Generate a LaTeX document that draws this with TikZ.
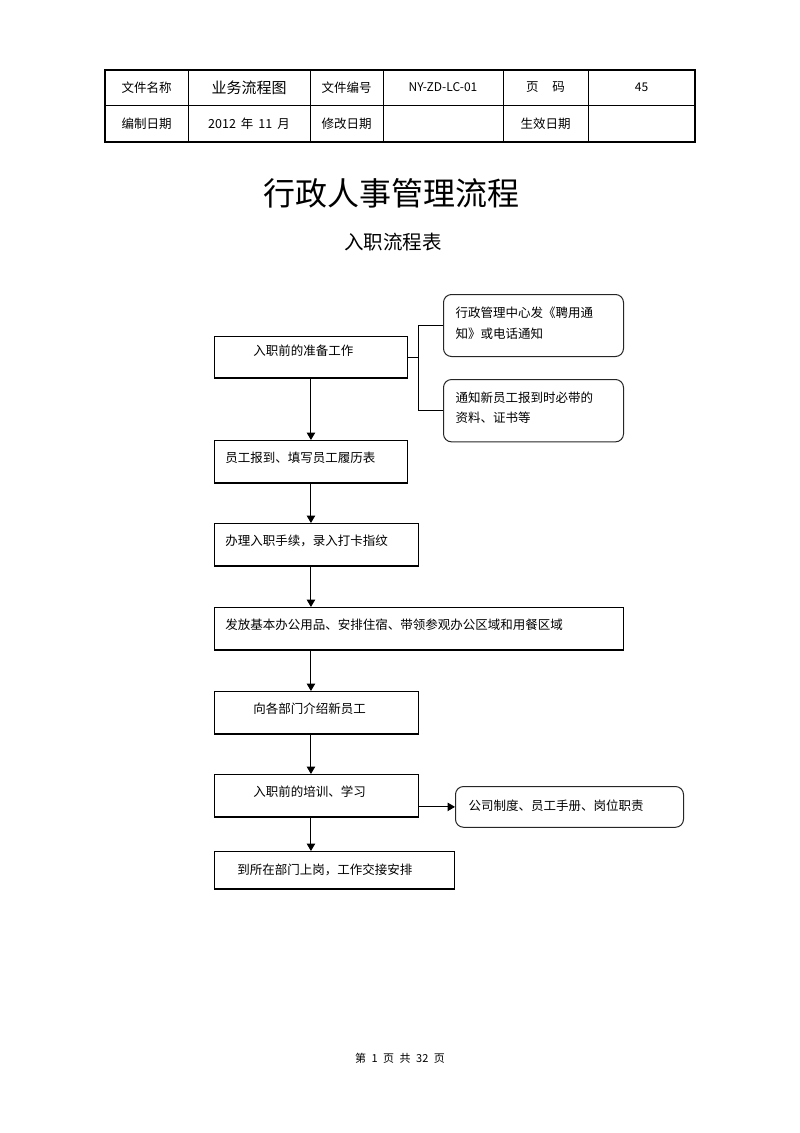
\documentclass[tikz,border=0pt]{standalone}
\usepackage{fontspec}
\setmainfont{Noto Sans CJK SC}
\usetikzlibrary{arrows.meta}

\tikzset{
  flowbox/.style 2 args={
    draw, rectangle, line width=0.9pt, anchor=north west,
    inner xsep=#2, inner ysep=0pt, text width=#1, align=left,
    text height=21.75pt, text depth=20.25pt,
  },
  notebox/.style 2 args={
    draw=black!85, rounded corners=8pt, line width=1pt, anchor=north west,
    inner xsep=#2, inner ysep=0pt, text width=#1, align=left,
    text height=23pt, text depth=39pt,
  },
  flow/.style={-{Triangle[length=7.5pt,width=8.5pt]}, line width=1pt},
  cell/.style={inner sep=0pt},
}

\begin{document}
\begin{tikzpicture}[x=1pt, y=-1pt, font=\fontsize{12.5pt}{20.5pt}\selectfont]
  \useasboundingbox (0,0) rectangle (800,1133);

  % header table
  \draw[line width=2pt] (105,70) rectangle (695,142);
  \draw[line width=0.9pt] (105,105) -- (695,105);
  \foreach \x in {188,310,383,503,588}
    \draw[line width=0.9pt] (\x,70) -- (\x,142);
  \node[cell] (name)    at (146.5,87.5) {文件名称};
  \node[cell, font=\fontsize{15pt}{18pt}\selectfont] (namev) at (249,87.5) {业务流程图};
  \node[cell] (num)     at (346.5,87.5) {文件编号};
  \node[cell, font=\fontsize{12pt}{15pt}\selectfont] (numv) at (443,87.5) {NY-ZD-LC-01};
  \node[cell] (page)    at (545.5,87.5) {页\hspace{1.1em}码};
  \node[cell, font=\fontsize{12pt}{15pt}\selectfont] (pagev) at (641.5,87.5) {45};
  \node[cell] (made)    at (146.5,123.5) {编制日期};
  \node[cell] (madev)   at (249,123.5) {2012\hspace{0.4em}年\hspace{0.4em}11\hspace{0.4em}月};
  \node[cell] (edit)    at (346.5,123.5) {修改日期};
  \node[cell] (valid)   at (545.5,123.5) {生效日期};

  % titles
  \node[font=\fontsize{32pt}{36pt}\selectfont] (title) at (391,193) {行政人事管理流程};
  \node[font=\fontsize{19.5pt}{22pt}\selectfont] (subtitle) at (393,242) {入职流程表};

  % main column
  \node[flowbox={115pt}{39pt}, text height=18.75pt, text depth=22.25pt] (prep) at (214,336) {入职前的准备工作};
  \node[flowbox={171pt}{11pt}] (report)  at (214,440) {员工报到、填写员工履历表};
  \node[flowbox={182pt}{11pt}] (onboard) at (214,523) {办理入职手续，录入打卡指纹};
  \node[flowbox={387pt}{11pt}] (issue)   at (214,607) {发放基本办公用品、安排住宿、带领参观办公区域和用餐区域};
  \node[flowbox={126pt}{39pt}] (intro)   at (214,691) {向各部门介绍新员工};
  \node[flowbox={126pt}{39pt}] (train)   at (214,774) {入职前的培训、学习};
  \node[flowbox={194pt}{23pt}, text height=22.75pt, text depth=14.25pt] (post) at (214,851) {到所在部门上岗，工作交接安排};

  % side notes
  \node[notebox={156pt}{12pt}, text height=23.4pt, text depth=38.6pt] (notice) at (443,294) {行政管理中心发《聘用通\\知》或电话通知};
  \node[notebox={156pt}{12pt}, text height=22.75pt, text depth=39.6pt] (bring) at (443,379) {通知新员工报到时必带的\\资料、证书等};
  \node[notebox={202pt}{13pt}, text height=23.75pt, text depth=17pt] (rules) at (455,786) {公司制度、员工手册、岗位职责};

  \foreach \n in {prep,report,onboard,issue,intro,train,post}
    \draw[line width=1.8pt] (\n.south west) -- (\n.south east);

  % connectors
  \coordinate (jn) at ([xshift=-25pt]notice.west);
  \draw[line width=0.9pt] (notice.west) -- (jn) |- (bring.west);
  \draw[line width=0.9pt] (prep.east) -- (prep.east -| jn);
  \foreach \a/\b in {prep/report, report/onboard, onboard/issue, issue/intro, intro/train, train/post}
    \draw[flow] (\a.south -| prep.south) -- (\b.north -| prep.south);
  \draw[flow] (train.east |- rules.west) -- (rules.west);

  % footer
  \node[font=\fontsize{11pt}{13pt}\selectfont] (foot) at (400,1058) {第\hspace{0.5em}1\hspace{0.5em}页\hspace{0.5em}共\hspace{0.5em}32\hspace{0.5em}页};
\end{tikzpicture}
\end{document}
